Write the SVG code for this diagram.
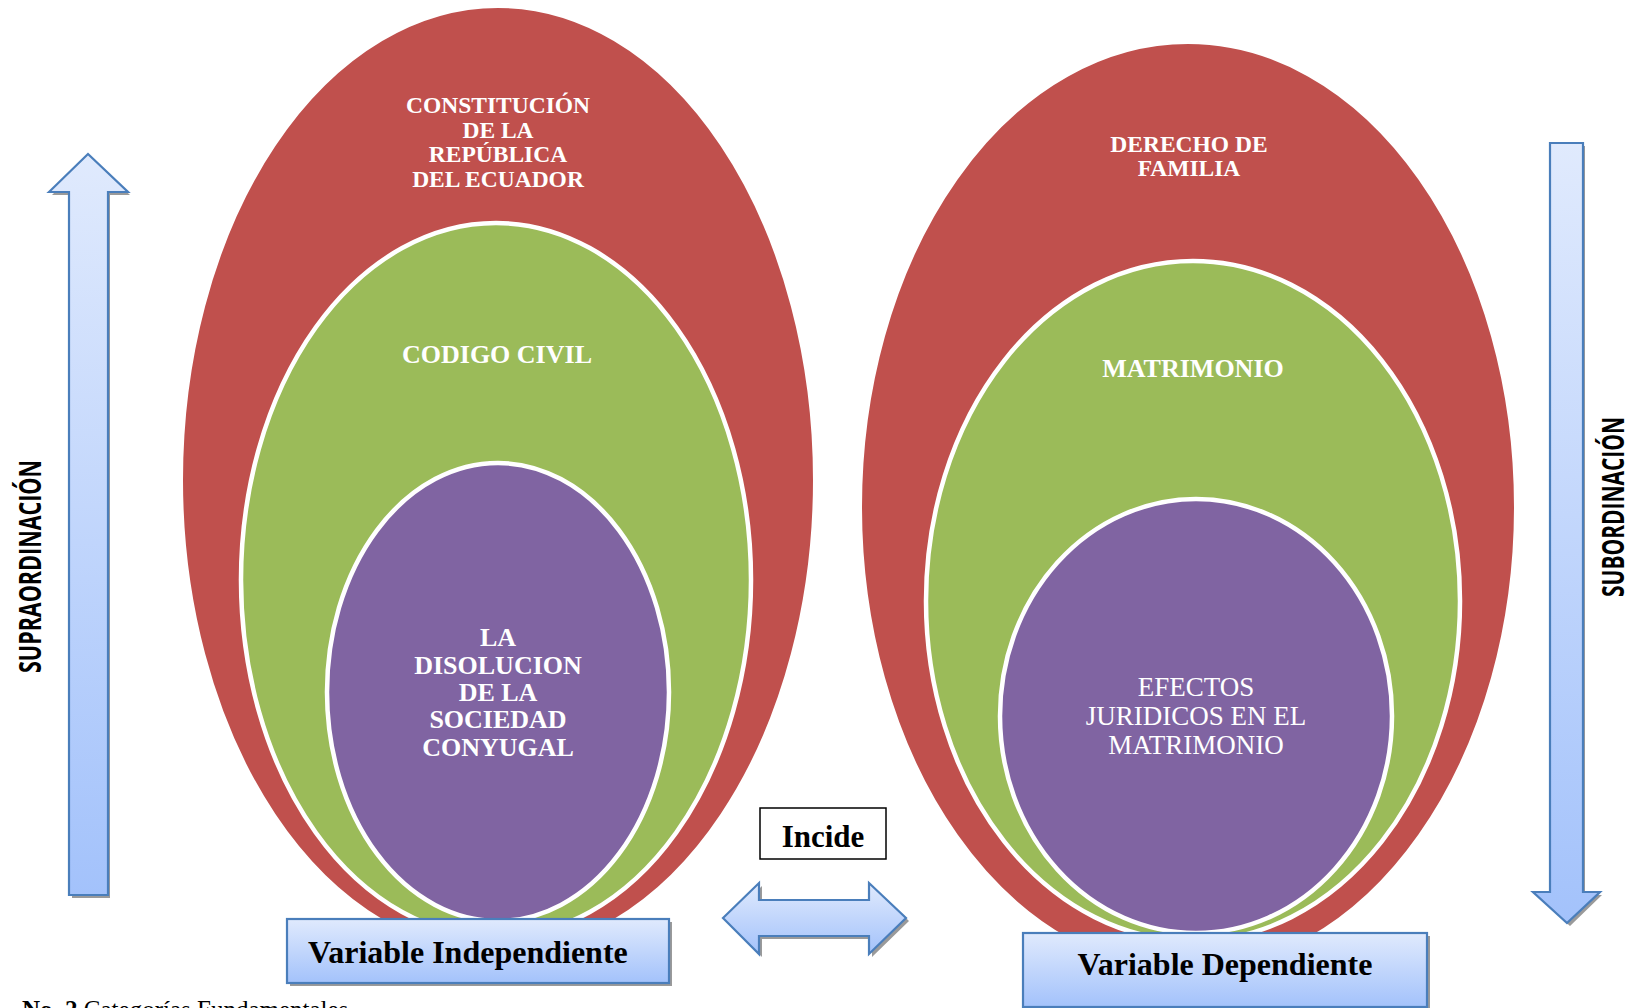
<svg xmlns="http://www.w3.org/2000/svg" width="1634" height="1008" viewBox="0 0 1634 1008">
<defs>
<linearGradient id="gv" x1="0" y1="0" x2="0" y2="1">
<stop offset="0" stop-color="#e0eafd"/>
<stop offset="1" stop-color="#a3c2fb"/>
</linearGradient>
<style>
.red{fill:#c0504d;stroke:#ffffff;stroke-width:2}
.grn{fill:#9bbb59;stroke:#ffffff;stroke-width:4.5}
.pur{fill:#8064a2;stroke:#ffffff;stroke-width:4.5}
.bl{fill:url(#gv);stroke:#4a7ebb;stroke-width:2.2}
.sh{fill:#9a9a9a}
.wb{font-family:"Liberation Serif","Times New Roman",serif;font-weight:bold;fill:#ffffff;text-anchor:middle}
.wr{font-family:"Liberation Serif","Times New Roman",serif;fill:#ffffff;text-anchor:middle}
.bk{font-family:"Liberation Serif","Times New Roman",serif;font-weight:bold;fill:#000000}
.side{font-family:"Open Sans","Liberation Sans",Arial,sans-serif;font-weight:bold;fill:#000000;text-anchor:middle}
</style>
</defs>
<rect width="1634" height="1008" fill="#ffffff"/>

<g id="left-red">
<ellipse class="red" cx="498" cy="480" rx="316" ry="473"/>
<text class="wb" font-size="23.5" x="498" y="113">CONSTITUCIÓN</text>
<text class="wb" font-size="23.5" x="498" y="137.5">DE LA</text>
<text class="wb" font-size="23.5" x="498" y="162">REPÚBLICA</text>
<text class="wb" font-size="23.5" x="498" y="187">DEL ECUADOR</text>
</g>
<g id="left-green">
<ellipse class="grn" cx="496" cy="580" rx="255" ry="357"/>
<text class="wb" font-size="26" x="497" y="363">CODIGO CIVIL</text>
</g>
<g id="left-purple">
<ellipse class="pur" cx="498" cy="692" rx="171" ry="229"/>
<text class="wb" font-size="26" x="498" y="646">LA</text>
<text class="wb" font-size="26" x="498" y="674">DISOLUCION</text>
<text class="wb" font-size="26" x="498" y="701">DE LA</text>
<text class="wb" font-size="26" x="498" y="728">SOCIEDAD</text>
<text class="wb" font-size="26" x="498" y="756">CONYUGAL</text>
</g>

<g id="right-red">
<ellipse class="red" cx="1188" cy="507" rx="327" ry="464"/>
<text class="wb" font-size="23.5" x="1189" y="152">DERECHO DE</text>
<text class="wb" font-size="23.5" x="1189" y="176">FAMILIA</text>
</g>
<g id="right-green">
<ellipse class="grn" cx="1193" cy="601" rx="267" ry="340"/>
<text class="wb" font-size="26" x="1193" y="377">MATRIMONIO</text>
</g>
<g id="right-purple">
<ellipse class="pur" cx="1196" cy="716" rx="196" ry="217"/>
<text class="wr" font-size="27" x="1196" y="696">EFECTOS</text>
<text class="wr" font-size="27" x="1196" y="725">JURIDICOS EN EL</text>
<text class="wr" font-size="27" x="1196" y="754">MATRIMONIO</text>
</g>

<g id="var-independiente">
<rect class="sh" x="290" y="922" width="382" height="64"/>
<rect class="bl" x="287" y="919" width="382" height="64"/>
<text class="bk" font-size="32" x="308" y="963">Variable Independiente</text>
</g>
<g id="var-dependiente">
<rect class="sh" x="1026" y="936" width="404" height="74"/>
<rect class="bl" x="1023" y="933" width="404" height="74"/>
<text class="bk" font-size="32" x="1225" y="975" text-anchor="middle">Variable Dependiente</text>
</g>

<g id="incide">
<rect x="760" y="808" width="126" height="51" fill="#ffffff" stroke="#000000" stroke-width="1.5"/>
<text class="bk" font-size="31" x="823" y="847" text-anchor="middle">Incide</text>
</g>

<g id="connectors">
<polygon class="sh" points="726,921 762,886 762,903 872,903 872,886 909,921 872,957 872,939 762,939 762,957"/>
<polygon class="bl" points="723,918 759,883 759,900 869,900 869,883 906,918 869,954 869,936 759,936 759,954"/>
<polygon class="sh" points="52,195 90,157 130,195 110,195 110,898 72,898 72,195"/>
<polygon class="bl" points="49,192 88,154 128,192 108,192 108,895 69,895 69,192"/>
<polygon class="sh" points="1553,146 1585,146 1585,895 1602,895 1570,926 1536,895 1553,895"/>
<polygon class="bl" points="1550,143 1583,143 1583,892 1600,892 1567,923 1533,892 1550,892"/>
</g>

<g id="side-labels">
<text class="side" font-size="30" textLength="213" lengthAdjust="spacingAndGlyphs" transform="translate(41,566.5) rotate(-90)">SUPRAORDINACIÓN</text>
<text class="side" font-size="30" textLength="180" lengthAdjust="spacingAndGlyphs" transform="translate(1624,507) rotate(-90)">SUBORDINACIÓN</text>
</g>

<g id="caption">
<text font-family="'Liberation Serif','Times New Roman',serif" font-size="25" x="22" y="1018" fill="#000000"><tspan font-weight="bold">No. 2</tspan> Categorías Fundamentales</text>
</g>
</svg>
